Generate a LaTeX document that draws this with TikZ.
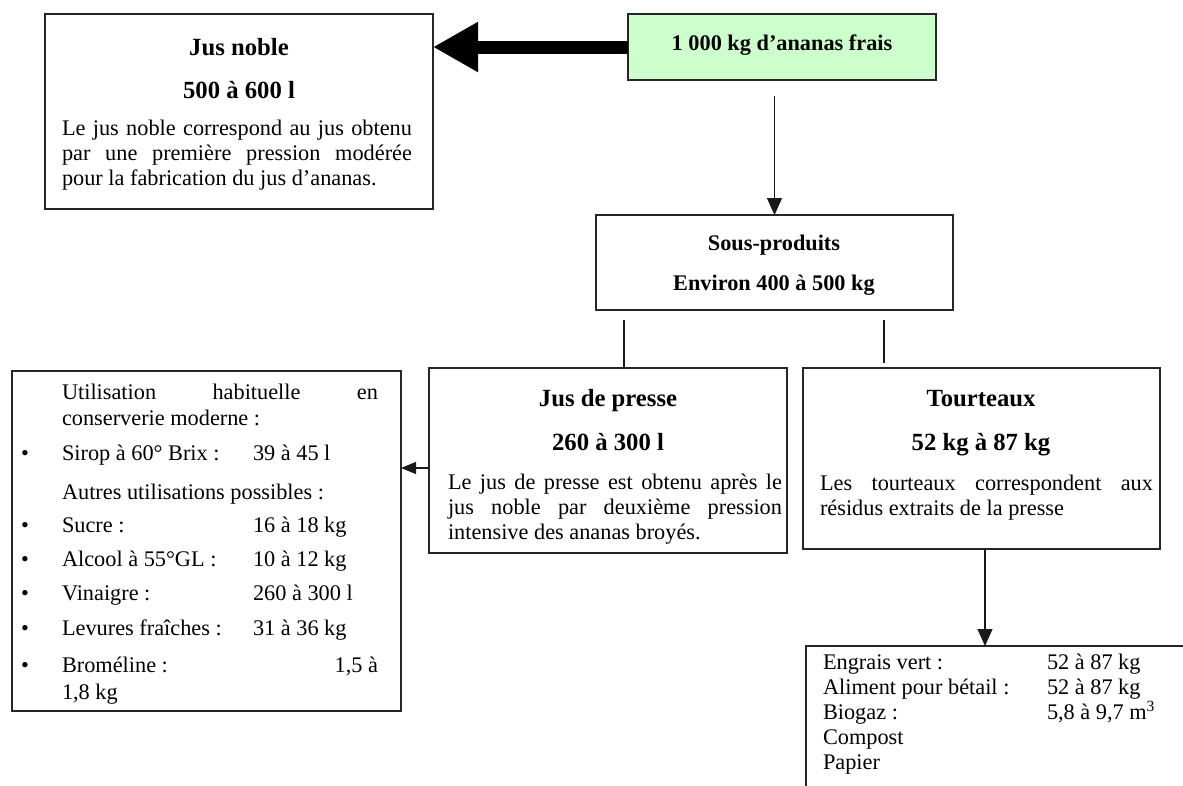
\documentclass[tikz,border=0pt]{standalone}
\usepackage{fontspec}
\setmainfont{Liberation Serif}
\usetikzlibrary{arrows.meta}
\definecolor{paleg}{RGB}{204,255,204}
\begin{document}
\begin{tikzpicture}[x=1pt,y=-1pt,
  box/.style={draw=black!85, line width=1.4pt, inner sep=0pt, outer sep=0pt, anchor=north west},
  txt/.style={inner sep=0pt, outer sep=0pt, anchor=base west, font=\fontsize{22.3}{25}\selectfont},
  ctxt/.style={inner sep=0pt, outer sep=0pt, anchor=base, font=\fontsize{22.3}{25}\selectfont\bfseries},
  btxt/.style={inner sep=0pt, outer sep=0pt, anchor=base, font=\fontsize{24.7}{28}\selectfont\bfseries},
  conn/.style={line width=1.1pt, draw=black!90},
  smallhead/.style={-{Triangle[length=17pt,width=15pt]}}]
\useasboundingbox (0,0) rectangle (1183,785);
\clip (0,0) rectangle (1183,785);
\fill[white] (0,0) rectangle (1183,785);

% boxes
\node[box, minimum width=388pt, minimum height=195pt] (jn) at (45,14) {};
\node[box, fill=paleg, minimum width=308pt, minimum height=66pt] (src) at (628,14) {};
\node[box, minimum width=357pt, minimum height=95pt] (sp) at (596,215) {};
\node[box, minimum width=389pt, minimum height=340pt] (util) at (12,371) {};
\node[box, minimum width=358pt, minimum height=185pt] (jp) at (429,368) {};
\node[box, minimum width=357pt, minimum height=181pt] (tt) at (803,368) {};
\node[box, minimum width=420pt, minimum height=200pt] (bot) at (806,646) {};

% connectors
\coordinate (ay) at (0,47);
\draw[line width=13pt, -{Triangle[length=45pt,width=47pt]}] (src.west |- ay) -- (jn.east |- ay);
\coordinate (d1) at (774.5,96);
\draw[conn, smallhead] (d1) -- (sp.north);
\coordinate (l1) at (624,320);
\draw[conn] (l1) -- (l1 |- jp.north);
\coordinate (l2t) at (884,320);
\coordinate (l2b) at (884,363);
\draw[conn] (l2t) -- (l2b);
\coordinate (ly) at (0,468);
\draw[conn, -{Triangle[length=15pt,width=12pt]}] (jp.west |- ly) -- (util.east |- ly);
\coordinate (bx) at (985,0);
\draw[conn, smallhead] (tt.south -| bx) -- (bot.north -| bx);

% Jus noble
\node[btxt] (jnt) at (239,55) {Jus noble};
\node[btxt] (jnq) at (239,98) {500 à 600 l};
\node[txt] (jn1) at (62,135) {\hbox to 350pt{Le jus noble correspond au jus obtenu}};
\node[txt] (jn2) at (62,160) {\hbox to 350pt{par une première pression modérée}};
\node[txt] (jn3) at (62,185) {pour la fabrication du jus d’ananas.};

% source
\node[ctxt] (srct) at (782,50) {1 000 kg d’ananas frais};

% sous-produits
\node[ctxt] (spt) at (774,250) {Sous-produits};
\node[ctxt] (spq) at (774,290) {Environ 400 à 500 kg};

% jus de presse
\node[btxt] (jpt) at (608,406) {Jus de presse};
\node[btxt] (jpq) at (608,450) {260 à 300 l};
\node[txt] (jp1) at (448,489) {\hbox to 334pt{Le jus de presse est obtenu après le}};
\node[txt] (jp2) at (448,514) {\hbox to 334pt{jus noble par deuxième pression}};
\node[txt] (jp3) at (448,539) {intensive des ananas broyés.};

% tourteaux
\node[btxt] (ttt) at (981,406) {Tourteaux};
\node[btxt] (ttq) at (981,450) {52 kg à 87 kg};
\node[txt] (tt1) at (820,490) {\hbox to 333pt{Les tourteaux correspondent aux}};
\node[txt] (tt2) at (820,515) {résidus extraits de la presse};

% utilisations
\node[txt] (u1) at (62,399) {\hbox to 316pt{Utilisation habituelle en}};
\node[txt] (u2) at (62,425) {conserverie moderne :};
\node[txt] (b1) at (21,460) {•};
\node[txt] (u3) at (62,460) {Sirop à 60° Brix :};
\node[txt] (v3) at (253,460) {39 à 45 l};
\node[txt] (u4) at (62,499) {Autres utilisations possibles :};
\node[txt] (b2) at (21,532) {•};
\node[txt] (u5) at (62,532) {Sucre :};
\node[txt] (v5) at (253,532) {16 à 18 kg};
\node[txt] (b3) at (21,566) {•};
\node[txt] (u6) at (62,566) {Alcool à 55°GL :};
\node[txt] (v6) at (253,566) {10 à 12 kg};
\node[txt] (b4) at (21,600) {•};
\node[txt] (u7) at (62,600) {Vinaigre :};
\node[txt] (v7) at (253,600) {260 à 300 l};
\node[txt] (b5) at (21,635) {•};
\node[txt] (u8) at (62,635) {Levures fraîches :};
\node[txt] (v8) at (253,635) {31 à 36 kg};
\node[txt] (b6) at (21,672) {•};
\node[txt] (u9) at (62,672) {\hbox to 316pt{Broméline :\hfill 1,5 à}};
\node[txt] (u10) at (62,699) {1,8 kg};

% bottom box
\node[txt] (e1) at (823,669) {Engrais vert :};
\node[txt] (f1) at (1047,669) {52 à 87 kg};
\node[txt] (e2) at (823,694) {Aliment pour bétail :};
\node[txt] (f2) at (1047,694) {52 à 87 kg};
\node[txt] (e3) at (823,719) {Biogaz :};
\node[txt] (f3) at (1047,719) {5,8 à 9,7 m\textsuperscript{3}};
\node[txt] (e4) at (823,744) {Compost};
\node[txt] (e5) at (823,769) {Papier};
\end{tikzpicture}
\end{document}
